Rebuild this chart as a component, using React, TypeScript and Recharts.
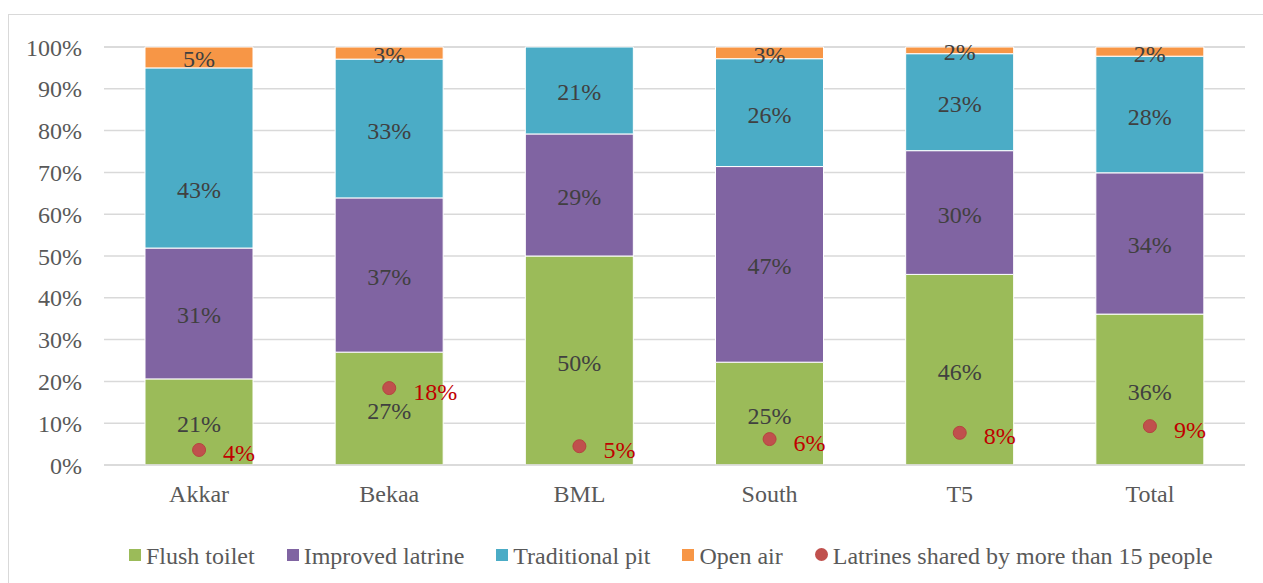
import React from "react";
import {
	ComposedChart,
	Bar,
	Line,
	XAxis,
	YAxis,
	CartesianGrid,
	Legend,
	LabelList,
} from "recharts";

const regions = ["Akkar", "Bekaa", "BML", "South", "T5", "Total"];
const flushToilet = [20.6, 27.0, 50.0, 24.6, 45.6, 36.1];
const improvedLatrine = [31.3, 36.9, 29.2, 46.8, 29.6, 33.8];
const traditionalPit = [43.1, 33.2, 20.8, 25.8, 23.2, 27.9];
const openAir = [5.0, 2.9, 0, 2.8, 1.6, 2.2];
const sharedLatrines = [3.6, 18.4, 4.5, 6.2, 7.7, 9.3];
const yTicks = [0, 10, 20, 30, 40, 50, 60, 70, 80, 90, 100];

const data = regions.map((name, i) => ({
	name,
	flush: flushToilet[i],
	improved: improvedLatrine[i],
	traditional: traditionalPit[i],
	open: openAir[i],
	shared: sharedLatrines[i],
}));

const FONT = "'Liberation Serif', serif";

const series = [
	{ key: "flush", label: "Flush toilet", color: "#9bbb59" },
	{ key: "improved", label: "Improved latrine", color: "#8064a2" },
	{ key: "traditional", label: "Traditional pit", color: "#4bacc6" },
	{ key: "open", label: "Open air", color: "#f79646" },
];

// segment value labels, centred (the Akkar pit label sits lower in the original)
const SegmentLabel = (props: any) => {
	const { x, y, width, height, value, index, seriesKey } = props;
	if (!value) return null;
	const shift = seriesKey === "traditional" && index === 0 ? 32 : 2;
	return (
		<text
			x={x + width / 2}
			y={y + height / 2 + shift}
			textAnchor="middle"
			dominantBaseline="central"
			fill="#404040"
			fontSize={24}
			fontFamily={FONT}
		>
			{`${Math.round(Number(value))}%`}
		</text>
	);
};

// label to the right of each red dot
const SharedLabel = (props: any) => {
	const { x, y, value } = props;
	return (
		<text
			x={x + 24}
			y={y + 3}
			dy="0.355em"
			fill="#c00000"
			fontSize={24}
			fontFamily={FONT}
		>
			{`${Math.round(value)}%`}
		</text>
	);
};

const CustomLegend = () => (
	<div
		style={{
			display: "flex",
			justifyContent: "flex-start",
			alignItems: "center",
			fontFamily: FONT,
			fontSize: 24,
			lineHeight: "28px",
			color: "#595959",
			paddingLeft: 120,
			paddingTop: 7,
			whiteSpace: "nowrap",
		}}
	>
		{series.map((s) => (
			<span key={s.key} style={{ display: "flex", alignItems: "center", marginRight: 32 }}>
				<span style={{ width: 12, height: 12, background: s.color, marginRight: 5, marginTop: -3 }} />
				{s.label}
			</span>
		))}
		<span style={{ display: "flex", alignItems: "center" }}>
			<span
				style={{
					width: 13,
					height: 13,
					borderRadius: "50%",
					background: "#c0504d",
					marginRight: 5,
					marginTop: -3,
				}}
			/>
			Latrines shared by more than 15 people
		</span>
	</div>
);

const App = () => {
	return (
		<div
			style={{
				position: "fixed",
				top: 14,
				left: 8,
				width: 1255,
				height: 569,
				borderTop: "1px solid #d9d9d9",
				borderLeft: "1px solid #d9d9d9",
				background: "#fff",
			}}
		>
			<ComposedChart
				width={1254}
				height={568}
				data={data}
				margin={{ top: 32, right: 18, left: 0, bottom: 8 }}
				barCategoryGap={41}
			>
				<CartesianGrid vertical={false} stroke="#d9d9d9" strokeWidth={1.5} />
				<XAxis
					dataKey="name"
					height={70}
					tickLine={false}
					tickSize={0}
					tickMargin={20}
					axisLine={{ stroke: "#d9d9d9", strokeWidth: 1.5 }}
					tick={{ fill: "#595959", fontSize: 24, fontFamily: FONT }}
				/>
				<YAxis
					width={95}
					domain={[0, 100]}
					ticks={yTicks}
					tickFormatter={(v) => `${v}%`}
					axisLine={false}
					tickLine={false}
					tickSize={0}
					tickMargin={22}
					tick={{ fill: "#595959", fontSize: 24, fontFamily: FONT }}
				/>
				<Legend verticalAlign="bottom" height={40} content={<CustomLegend />} />
				{series.map((s) => (
					<Bar
						key={s.key}
						dataKey={s.key}
						stackId="a"
						fill={s.color}
						stroke="#fff"
						strokeWidth={1}
						isAnimationActive={false}
					>
						<LabelList
							dataKey={s.key}
							content={(p: any) => <SegmentLabel {...p} seriesKey={s.key} />}
						/>
					</Bar>
				))}
				<Line
					dataKey="shared"
					stroke="none"
					dot={{ r: 6.5, fill: "#c0504d", stroke: "#b5453f", strokeWidth: 1 }}
					activeDot={false}
					isAnimationActive={false}
				>
					<LabelList dataKey="shared" content={<SharedLabel />} />
				</Line>
			</ComposedChart>
		</div>
	);
};

export default App;
